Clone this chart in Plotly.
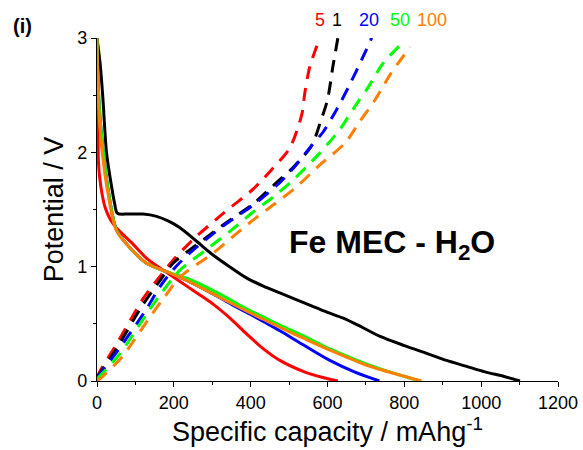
import plotly.graph_objects as go

# ---- data: discharge (solid) ----
d1_x = [0, 8, 15, 25, 38, 46, 53, 80, 120, 155, 185, 216, 260, 303, 345, 390, 433, 476, 520, 563, 600, 641, 690, 737, 800, 860, 910, 960, 1010, 1060, 1101]
d1_y = [3.0, 2.78, 2.49, 1.99, 1.70, 1.55, 1.467, 1.46, 1.46, 1.44, 1.40, 1.34, 1.22, 1.10, 1.0, 0.90, 0.83, 0.77, 0.71, 0.65, 0.60, 0.55, 0.47, 0.39, 0.31, 0.24, 0.18, 0.13, 0.08, 0.04, 0.0]

d5_x = [0, 2, 4, 10, 21, 35, 50, 68, 90, 130, 181, 216, 260, 303, 346, 390, 430, 476, 540, 606, 627]
d5_y = [3.0, 2.6, 1.9, 1.7, 1.52, 1.41, 1.34, 1.28, 1.21, 1.07, 0.95, 0.87, 0.77, 0.67, 0.55, 0.41, 0.29, 0.18, 0.08, 0.015, 0.0]

d20_x = [0, 3, 8, 17, 30, 51, 90, 129, 181, 240, 303, 350, 390, 433, 476, 540, 606, 670, 735]
d20_y = [3.0, 2.6, 2.3, 1.99, 1.65, 1.32, 1.15, 1.03, 0.956, 0.87, 0.76, 0.67, 0.60, 0.52, 0.44, 0.31, 0.18, 0.08, 0.0]

d50_x = [0, 3, 8, 17, 30, 51, 90, 129, 181, 240, 303, 390, 433, 476, 540, 606, 700, 790, 840]
d50_y = [3.0, 2.6, 2.3, 1.99, 1.65, 1.32, 1.15, 1.03, 0.956, 0.89, 0.79, 0.63, 0.56, 0.49, 0.39, 0.28, 0.15, 0.05, 0.0]

d100_x = [0, 2, 6, 14, 28, 50, 90, 129, 181, 240, 303, 390, 433, 476, 540, 606, 700, 790, 845]
d100_y = [3.0, 2.6, 2.3, 1.99, 1.65, 1.32, 1.15, 1.03, 0.956, 0.87, 0.76, 0.61, 0.54, 0.47, 0.37, 0.27, 0.14, 0.05, 0.0]

# ---- data: charge (dashed) ----
c5_x = [0, 10, 47, 120, 151, 199, 251, 330, 407, 455, 502, 533, 541, 554, 580]
c5_y = [0.03, 0.10, 0.30, 0.72, 0.86, 1.06, 1.24, 1.47, 1.68, 1.85, 2.04, 2.33, 2.52, 2.75, 3.0]

c1_x = [0, 10, 50, 116, 160, 198, 259, 330, 407, 459, 511, 559, 582, 600, 614, 627]
c1_y = [0.03, 0.08, 0.28, 0.65, 0.86, 1.03, 1.19, 1.37, 1.55, 1.71, 1.87, 2.06, 2.27, 2.46, 2.75, 3.0]

c20_x = [0, 12, 55, 125, 165, 205, 259, 330, 407, 468, 511, 554, 589, 628, 659, 689, 715]
c20_y = [0.03, 0.08, 0.27, 0.61, 0.83, 1.0, 1.17, 1.36, 1.54, 1.71, 1.86, 2.04, 2.18, 2.40, 2.6, 2.81, 3.0]

c50_x = [0, 15, 60, 130, 170, 216, 285, 350, 407, 459, 511, 576, 632, 671, 706, 745, 802]
c50_y = [0.02, 0.07, 0.24, 0.59, 0.78, 0.97, 1.15, 1.32, 1.48, 1.61, 1.76, 1.98, 2.2, 2.40, 2.57, 2.78, 2.98]

c100_x = [0, 18, 65, 142, 175, 216, 303, 360, 411, 463, 520, 580, 645, 684, 724, 763, 815]
c100_y = [0.0, 0.05, 0.21, 0.58, 0.73, 0.91, 1.12, 1.28, 1.42, 1.55, 1.70, 1.89, 2.08, 2.27, 2.46, 2.68, 2.92]

cycle_labels = ["5", "1", "20", "50", "100"]
label_x = [580, 625, 708, 789, 872]

RED, BLACK, BLUE, GREEN, ORANGE = "#FF0000", "#000000", "#0000FF", "#00FF00", "#FF8000"
label_colors = [RED, BLACK, BLUE, GREEN, ORANGE]

fig = go.Figure()

def add(x, y, color, dash=None):
    fig.add_trace(go.Scatter(
        x=x, y=y, mode="lines",
        line=dict(color=color, width=3, shape="spline", smoothing=0.8,
                  dash=dash if dash else "solid"),
        showlegend=False, hoverinfo="skip"))

DASH = "13px,9px"
add(d1_x, d1_y, BLACK)
add(d5_x, d5_y, RED)
add(d20_x, d20_y, BLUE)
add(d50_x, d50_y, GREEN)
add(d100_x, d100_y, ORANGE)
add(c5_x, c5_y, RED, DASH)
add(c1_x, c1_y, BLACK, DASH)
add(c20_x, c20_y, BLUE, DASH)
add(c50_x, c50_y, GREEN, DASH)
add(c100_x, c100_y, ORANGE, DASH)

font_family = "Liberation Sans, Arial, sans-serif"

# plot area: x 97..558 px, y 38..381 px
PW, PH = 461.0, 343.0

for lab, lx, col in zip(cycle_labels, label_x, label_colors):
    fig.add_annotation(x=lx, y=(381 - 20) / PH, xref="x", yref="paper", text=lab,
                       showarrow=False, xanchor="center", yanchor="middle",
                       font=dict(size=18, color=col, family=font_family))

fig.add_annotation(x=768, y=1.19, xref="x", yref="y",
                   text="<b>Fe MEC - H<sub>2</sub>O</b>", showarrow=False,
                   xanchor="center", yanchor="middle",
                   font=dict(size=32, color="black", family=font_family))

fig.add_annotation(x=(22 - 97) / PW, y=(381 - 26) / PH, xref="paper", yref="paper",
                   text="<b>(i)</b>", showarrow=False, xanchor="center", yanchor="middle",
                   font=dict(size=20, color="black", family=font_family))

fig.update_layout(
    width=583, height=450,
    margin=dict(l=97, r=25, t=38, b=69, autoexpand=False),
    plot_bgcolor="white", paper_bgcolor="white",
    font=dict(family=font_family, size=18, color="black"),
)

fig.update_xaxes(range=[0, 1200], tickvals=[0, 200, 400, 600, 800, 1000, 1200],
                 automargin=False,
                 showgrid=False, zeroline=False, showline=True, linecolor="black",
                 linewidth=1.2, ticks="outside", ticklen=5, tickcolor="black",
                 minor=dict(ticks="outside", ticklen=3, dtick=100, tickcolor="black"),
                 tickfont=dict(size=18),
                 title=dict(text="Specific capacity / mAhg<sup>-1</sup>",
                            font=dict(size=27), standoff=2))
fig.update_yaxes(range=[0, 3], tickvals=[0, 1, 2, 3],
                 automargin=False,
                 showgrid=False, zeroline=False, showline=True, linecolor="black",
                 linewidth=1.2, ticks="outside", ticklen=5, tickcolor="black",
                 minor=dict(ticks="outside", ticklen=3, dtick=0.5, tickcolor="black"),
                 tickfont=dict(size=18),
                 title=dict(text="Potential / V", font=dict(size=27), standoff=5))

fig.write_html("out.html")
